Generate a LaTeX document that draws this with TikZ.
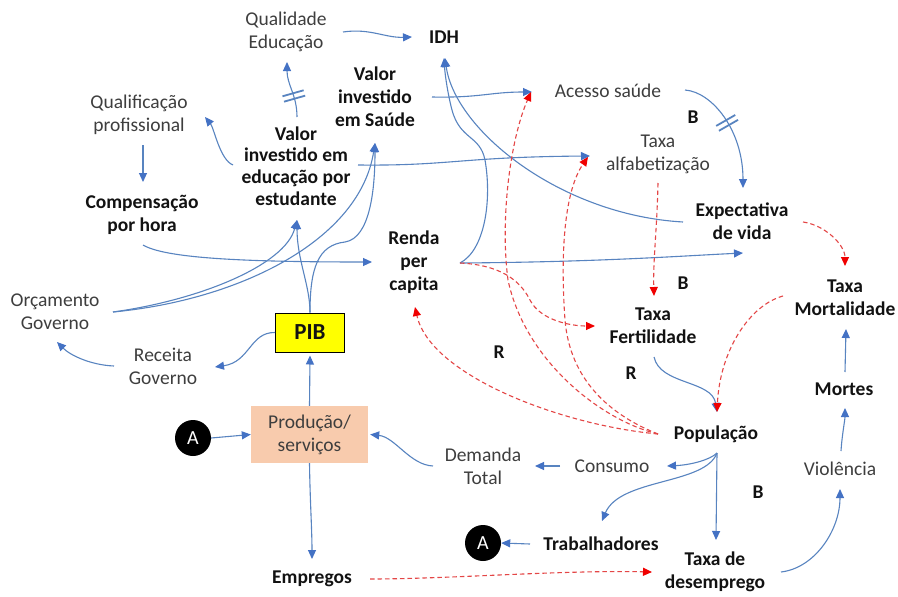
\documentclass[tikz,border=0pt]{standalone}
\usepackage{fontspec}
\setmainfont{Carlito}
\usetikzlibrary{arrows.meta,calc,decorations.markings}
\definecolor{bline}{RGB}{88,132,192}
\definecolor{bhead}{RGB}{68,114,196}
\definecolor{rline}{RGB}{228,70,70}
\definecolor{rhead}{RGB}{240,0,0}
\definecolor{txtgray}{RGB}{62,62,62}
\definecolor{txtblack}{RGB}{18,18,18}
\definecolor{pibyellow}{RGB}{255,255,0}
\definecolor{prodfill}{RGB}{248,203,173}

\begin{document}
\begin{tikzpicture}[x=1pt,y=-1pt,
  txt/.style={align=center,text=txtgray,font=\fontsize{19.5}{23}\selectfont,inner sep=1pt},
  bld/.style={align=center,text=txtblack,font=\fontsize{19.5}{23}\selectfont\bfseries,inner sep=1pt},
  lnk/.style={draw=bline,line width=1.1pt,-{Triangle[length=9pt,width=8pt,color=bhead]}},
  neg/.style={draw=rline,line width=1.1pt,dash pattern=on 4.5pt off 3pt,-{Triangle[length=9pt,width=8pt,color=rhead]}},
  delay/.style={postaction={decorate},decoration={markings,mark=at position #1 with {\draw[bline,line width=1.8pt,solid,-] (-2.8,-11)--(-2.8,11) (2.8,-11)--(2.8,11);}}},
  conn/.style={circle,fill=black,text=white,minimum size=36pt,inner sep=0pt,font=\fontsize{20}{24}\selectfont},
]
\fill[white] (0,0) rectangle (898,597);
\useasboundingbox (0,0) rectangle (898,597);

% variables
\node[txt] (qe) at (286,32) {Qualidade\\Educação};
\node[bld] (idh) at (444,37) {IDH};
\node[bld] (vs) at (375,97) {Valor\\investido\\em Saúde};
\node[txt] (qp) at (139,115) {Qualificação\\profissional};
\node[bld,font=\fontsize{19.5}{21.7}\selectfont\bfseries] (ve) at (296,166) {Valor\\investido em\\educação por\\estudante};
\node[bld] (cp) at (142,215) {Compensação\\por hora};
\node[bld] (rpc) at (414,262) {Renda\\per\\capita};
\node[txt] (og) at (55,312) {Orçamento\\Governo};
\node[draw=black,line width=1pt,fill=pibyellow,minimum width=69pt,minimum height=39pt,
      font=\fontsize{23}{27}\selectfont\bfseries,text=txtblack] (pib) at (310,332.5) {PIB};
\node[txt] (rg) at (163,366) {Receita\\Governo};
\node[txt,fill=prodfill,minimum width=117pt,minimum height=57pt] (prod) at (309.5,434.5) {Produção/\\serviços};
\node[conn] (ca) at (193,438) {A};
\node[txt] (dt) at (483,466) {Demanda\\Total};
\node[txt] (cons) at (612,466) {Consumo};
\node[bld] (pop) at (716,434) {População};
\node[bld] (trab) at (601,544) {Trabalhadores};
\node[conn] (cb) at (483,543) {A};
\node[bld] (emp) at (312,579) {Empregos};
\node[bld] (td) at (715,572) {Taxa de\\desemprego};
\node[txt] (viol) at (840,469) {Violência};
\node[bld] (mort) at (844,389) {Mortes};
\node[bld] (tm) at (845,298) {Taxa\\Mortalidade};
\node[bld] (tf) at (653,326) {Taxa\\Fertilidade};
\node[bld] (ev) at (742,221) {Expectativa\\de vida};
\node[txt] (ta) at (658,154) {Taxa\\alfabetização};
\node[txt] (as) at (608,91) {Acesso saúde};

% loop labels
\node[bld] (b1) at (693,117) {B};
\node[bld] (b2) at (683,283) {B};
\node[bld] (r1) at (499,352) {R};
\node[bld] (r2) at (631,373) {R};
\node[bld] (b3) at (758,492) {B};

% positive links
\draw[lnk] ($(qe)+(57,0)$) .. controls (370,28) and (385,38) .. ($(idh)+(-32,0)$);
\draw[lnk,delay=0.38] ($(ve)+(1,-49)$) .. controls (297,95) and (287,85) .. ($(qe)+(1,30)$);
\draw[lnk] ($(ve)+(-63,-1)$) .. controls (220,160) and (214,128) .. ($(qp)+(66,2)$);
\draw[lnk] ($(qp)+(4,30)$) -- ($(cp)+(1,-33)$);
\draw[lnk] ($(cp)+(1,30)$) .. controls (165,258) and (240,262) .. ($(rpc)+(-42,0)$);
\draw[lnk] ($(ve)+(62,-1)$) .. controls (450,166) and (460,157) .. ($(ta)+(-68,2)$);
\draw[lnk] ($(vs)+(57,0)$) .. controls (480,98) and (490,92) .. ($(as)+(-76,1)$);
\draw[lnk] ($(rpc)+(46,1)$) .. controls (485,250) and (492,200) .. (485,160)
  .. controls (480,135) and (460,140) .. (452,110) .. controls (448,95) and (445,75) .. ($(idh)+(0,21)$);
\draw[lnk] ($(ev)+(-59,1)$) .. controls (560,215) and (455,130) .. ($(idh)+(1,21)$);
\draw[lnk] ($(rpc)+(46,1)$) .. controls (600,262) and (680,256) .. ($(ev)+(1,32)$);
\draw[lnk,delay=0.45] ($(as)+(77,-1)$) .. controls (712,92) and (743,130) .. ($(ev)+(1,-33)$);
\draw[lnk] (pib.north) .. controls (310,285) and (297,260) .. ($(ve)+(1,54)$);
\draw[lnk] (pib.north) .. controls (310,268) and (318,245) .. (345,242)
  .. controls (370,238) and (375,190) .. ($(vs)+(0,46)$);
\draw[lnk] ($(og)+(58,0)$) .. controls (200,300) and (285,265) .. ($(ve)+(1,54)$);
\draw[lnk] ($(og)+(58,0)$) .. controls (240,300) and (360,240) .. ($(vs)+(0,46)$);
\draw[lnk] (pib.west) .. controls (250,332) and (250,362) .. ($(rg)+(52,1)$);
\draw[lnk] ($(rg)+(-49,0)$) .. controls (90,365) and (70,355) .. ($(og)+(2,30)$);
\draw[lnk] (prod.north) -- ($(pib.south)+(0,3)$);
\draw[lnk] (ca.east) -- (prod.west);
\draw[lnk] (prod.south) .. controls (310,500) and (312,530) .. ($(emp)+(0,-20)$);
\draw[lnk] ($(dt)+(-50,0)$) .. controls (410,465) and (395,437) .. ($(prod.east)+(2,0)$);
\draw[lnk] ($(cons)+(-52,0)$) -- ($(dt)+(52,0)$);
\draw[lnk] ($(pop)+(1,19)$) .. controls (710,460) and (690,465) .. ($(cons)+(55,0)$);
\draw[lnk] ($(pop)+(1,19)$) .. controls (705,485) and (620,478) .. ($(trab)+(1,-23)$);
\draw[lnk] ($(pop)+(1,19)$) -- ($(td)+(1,-32)$);
\draw[lnk] ($(trab)+(-71,0)$) -- (cb.east);
\draw[lnk] ($(tf)+(1,31)$) .. controls (660,385) and (712,380) .. ($(pop)+(1,-22)$);
\draw[lnk] ($(td)+(66,0)$) .. controls (815,568) and (840,530) .. ($(viol)+(0,20)$);
\draw[lnk] ($(viol)+(1,-18)$) .. controls (842,435) and (845,420) .. ($(mort)+(1,19)$);
\draw[lnk] ($(mort)+(1,-17)$) -- ($(tm)+(1,31)$);

% negative (dashed) links
\draw[neg] ($(emp)+(58,0)$) .. controls (450,579) and (560,570) .. ($(td)+(-63,0)$);
\draw[neg] ($(pop)+(-58,0)$) .. controls (560,425) and (430,375) .. ($(rpc)+(1,45)$);
\draw[neg] ($(pop)+(-58,0)$) .. controls (600,420) and (525,360) .. (508,280)
  .. controls (500,220) and (510,140) .. ($(as)+(-77,1)$);
\draw[neg] ($(pop)+(-58,0)$) .. controls (610,415) and (570,380) .. (565,320)
  .. controls (560,250) and (565,190) .. ($(ta)+(-70,3)$);
\draw[neg] ($(rpc)+(46,1)$) .. controls (500,265) and (520,280) .. (530,300)
  .. controls (540,320) and (570,326) .. ($(tf)+(-58,0)$);
\draw[neg] ($(ta)+(0,29)$) .. controls (657,230) and (653,260) .. ($(tf)+(1,-30)$);
\draw[neg] ($(ev)+(61,1)$) .. controls (825,225) and (845,245) .. ($(tm)+(0,-32)$);
\draw[neg] ($(tm)+(-62,-2)$) .. controls (750,305) and (720,350) .. ($(pop)+(1,-22)$);
\end{tikzpicture}
\end{document}
